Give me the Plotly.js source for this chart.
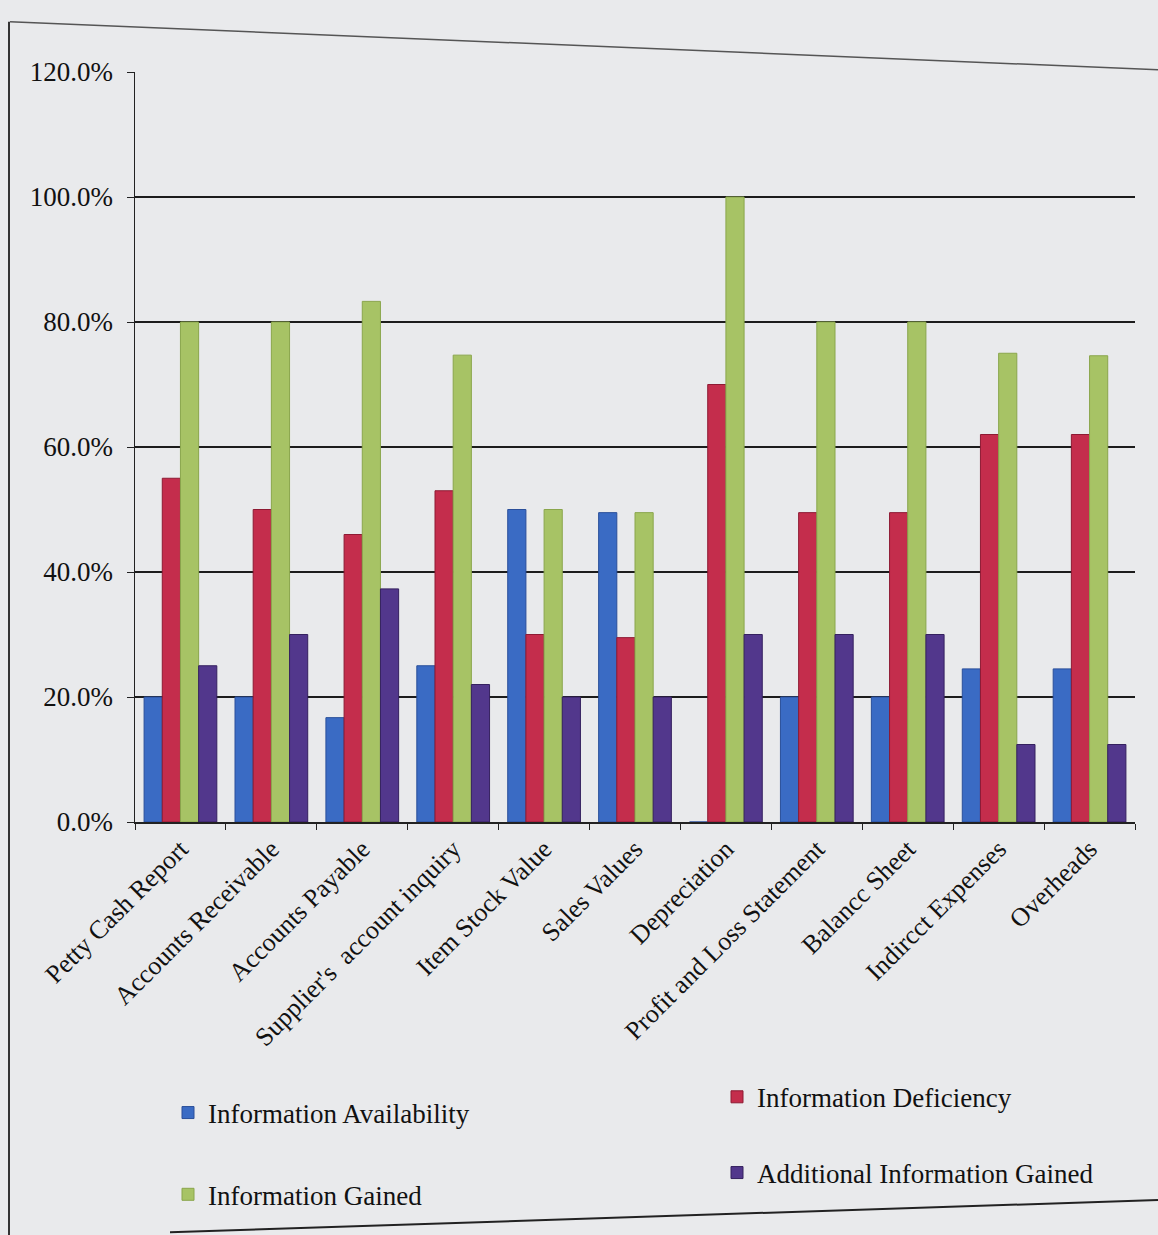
<!DOCTYPE html>
<html>
<head>
<meta charset="utf-8">
<script src="https://cdn.plot.ly/plotly-3.0.1.min.js"></script>
<style>
html,body{margin:0;padding:0;background:#e9eaec;}
#chart{width:1158px;height:1235px;}
</style>
</head>
<body>
<div id="chart"></div>
<script>
const categories = ["Petty Cash Report","Accounts Receivable","Accounts Payable","Supplier's  account inquiry","Item Stock Value","Sales Values","Depreciation","Profit and Loss Statement","Balancc Sheet","Indircct Expenses","Overheads"];
const availability = [20, 20, 16.7, 25, 50, 49.5, 0, 20, 20, 24.5, 24.5];
const deficiency   = [55, 50, 46, 53, 30, 29.5, 70, 49.5, 49.5, 62, 62];
const gained       = [80, 80, 83.3, 74.7, 50, 49.5, 100, 80, 80, 75, 74.6];
const additional   = [25, 30, 37.3, 22, 20, 20, 30, 30, 30, 12.4, 12.4];
const yTicks = [0, 20, 40, 60, 80, 100, 120];

const serif = "Liberation Serif, Times New Roman, serif";
function bar(name, y, color, line, legend) {
  return {type:'bar', name:name, x:categories, y:y, legend:legend,
    marker:{color:color, line:{color:line, width:1}}, hoverinfo:'y+name'};
}
const data = [
  bar('Information Availability', availability, '#3a6bc4', '#2a4f9a', 'legend'),
  bar('Information Deficiency', deficiency, '#c42d4c', '#8e1a33', 'legend2'),
  bar('Information Gained', gained, '#a7c365', '#8aa64c', 'legend3'),
  bar('Additional Information Gained', additional, '#52378c', '#35215f', 'legend4')
];
function leg(x, y) {
  return {orientation:'h', x:x, y:y, xanchor:'left', yanchor:'middle',
    bgcolor:'rgba(0,0,0,0)', itemwidth:30,
    font:{family:serif, size:27, color:'#111'}};
}
const layout = {
  width:1158, height:1235,
  margin:{l:135, r:23, t:72, b:413, autoexpand:false},
  paper_bgcolor:'#e9eaec', plot_bgcolor:'#e9eaec',
  barmode:'group', bargap:0.2, bargroupgap:0,
  showlegend:true,
  legend:leg(0.033, -0.388),
  legend2:leg(0.582, -0.367),
  legend3:leg(0.033, -0.497),
  legend4:leg(0.582, -0.468),
  xaxis:{type:'category', automargin:false, tickangle:-45,
    tickfont:{family:serif, size:26, color:'#111'},
    showline:true, linecolor:'#222', linewidth:1.5,
    ticks:'outside', tickson:'boundaries', ticklen:6, tickcolor:'#222',
    showgrid:false},
  yaxis:{range:[0,120], tickvals:yTicks, ticktext:yTicks.map(v=>v.toFixed(1)+'%'),
    automargin:false, tickfont:{family:serif, size:27, color:'#111'},
    ticklabelstandoff:8,
    showline:true, linecolor:'#222', linewidth:1.5,
    ticks:'outside', ticklen:7, tickcolor:'#222',
    showgrid:true, gridcolor:'#1c1c1c', gridwidth:1.5, zeroline:false},
  shapes:[
    {type:'line', xref:'paper', yref:'paper', x0:-0.126, x1:-0.126, y0:1.067, y1:-0.551, line:{color:'#333', width:2}},
    {type:'line', xref:'paper', yref:'paper', x0:-0.125, x1:1.023, y0:1.067, y1:1.003, line:{color:'#555', width:1.5}},
    {type:'line', xref:'paper', yref:'paper', x0:0.035, x1:1.023, y0:-0.547, y1:-0.504, line:{color:'#222', width:2}}
  ]
};
Plotly.newPlot('chart', data, layout, {displayModeBar:false, staticPlot:true});
</script>
</body>
</html>
